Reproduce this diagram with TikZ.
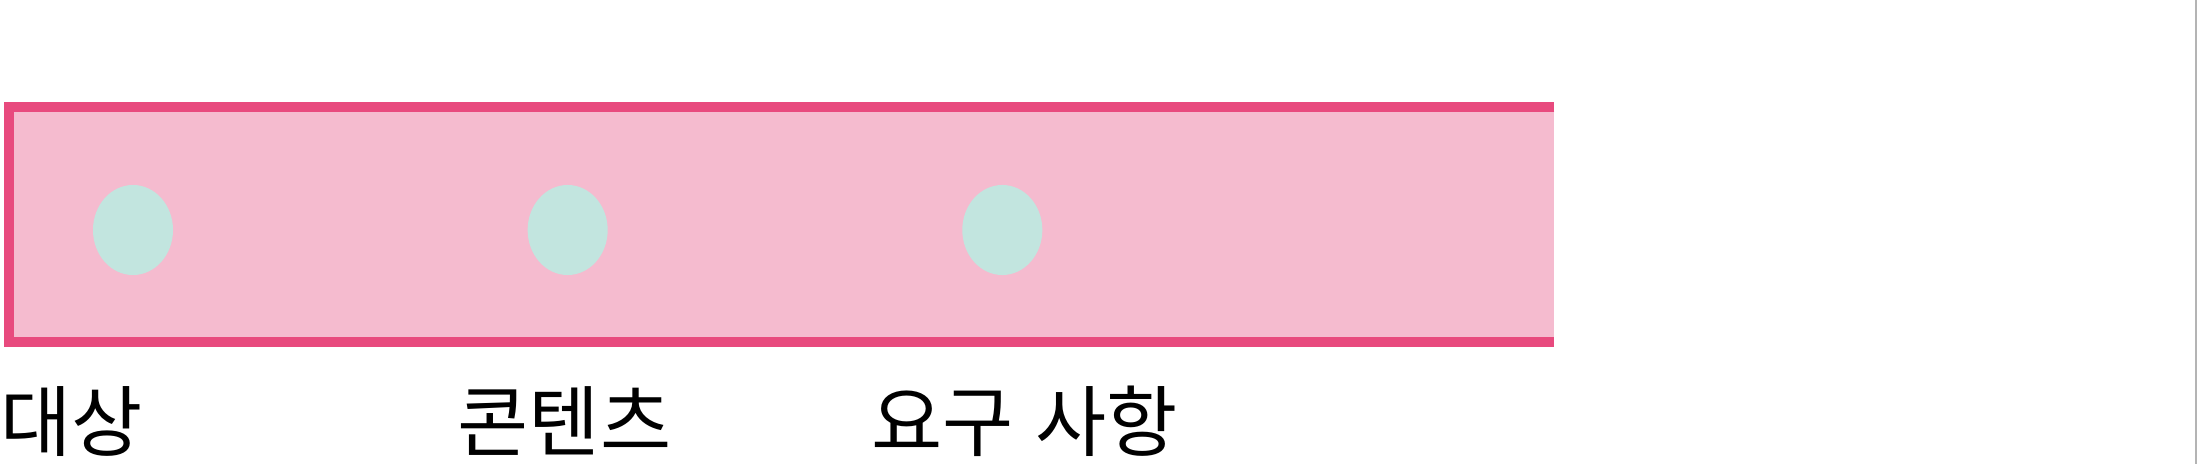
\documentclass[tikz,border=0pt]{standalone}
\usepackage{fontspec}
\newfontfamily\krfont{Noto Sans CJK KR}
\usetikzlibrary{positioning,shapes.geometric}
\definecolor{barpink}{HTML}{F5BBCF}
\definecolor{barrose}{HTML}{E84A7E}
\definecolor{dotmint}{HTML}{C2E5DF}
\definecolor{edgegrey}{HTML}{B4B4B4}

\begin{document}
\begin{tikzpicture}[x=0.01cm,y=-0.01cm,
  bar/.style={rectangle,fill=barpink,inner sep=0pt,anchor=north west,
    minimum width=15.48cm,minimum height=2.43cm},
  dot/.style={ellipse,fill=dotmint,inner sep=0pt,
    minimum width=0.8cm,minimum height=0.9cm},
  tag/.style={anchor=base west,inner sep=0pt,
    font=\krfont\fontsize{22pt}{26pt}\selectfont},
  node distance=3.53cm] %,font=\sffamily]
\useasboundingbox (0,0) rectangle (2197,464);
\node[bar] (Bar) at (4,102) {};
\draw[barrose,line width=0.1cm]
  ([yshift=-0.05cm]Bar.north east) -- ([xshift=0.05cm,yshift=-0.05cm]Bar.north west)
  -- ([xshift=0.05cm,yshift=0.05cm]Bar.south west) -- ([yshift=0.05cm]Bar.south east);
\node[dot] (Target) at (133,230) {};
\node[dot,right=of Target] (Content) {};
\node[dot,right=of Content] (Req) {};
\node[tag] (TargetText) at (0,450) {대상};
\node[tag] (ContentText) at (457,450) {콘텐츠};
\node[tag] (ReqText) at (871,450) {요구 \hspace{0.05em}사항};
\draw[edgegrey,line width=0.6pt] (2196,0) coordinate (EdgeTop) -- (2196,464) coordinate (EdgeBot);
\end{tikzpicture}
\end{document}
